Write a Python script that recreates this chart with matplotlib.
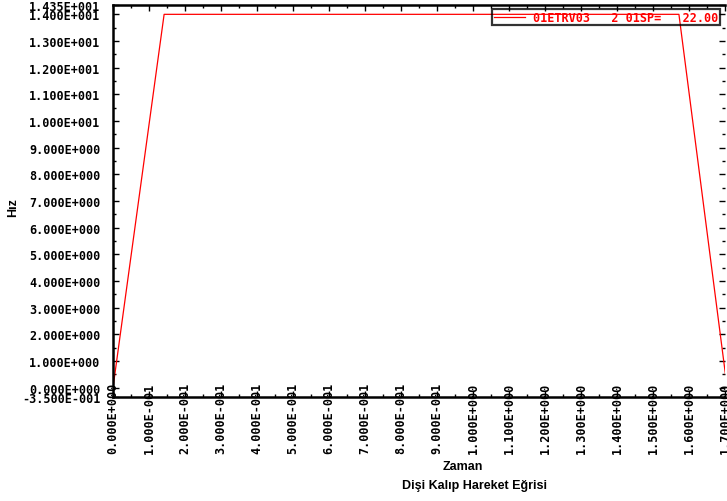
import matplotlib
matplotlib.use('Agg')
import matplotlib.pyplot as plt
import numpy as np

# curve data (time, speed)
zaman = [0.0, 0.142, 1.572, 1.706]
hiz = [0.0, 14.0, 14.0, 0.0]

x_ticks = [0.0, 0.1, 0.2, 0.3, 0.4, 0.5, 0.6, 0.7, 0.8, 0.9, 1.0,
           1.1, 1.2, 1.3, 1.4, 1.5, 1.6, 1.7]
y_ticks = [-0.35, 0, 1, 2, 3, 4, 5, 6, 7, 8, 9, 10, 11, 12, 13, 14, 14.35]

legend_label = '01ETRV03   2 01SP=   22.00'
x_label = 'Zaman'
y_label = 'Hız'
caption = 'Dişi Kalıp Hareket Eğrisi'


def sci_label(v):
    """
    Format like 1.400E+001 (three digit exponent).
    """
    if v == 0:
        return '0.000E+000'
    exp = int(np.floor(np.log10(abs(v))))
    mant = v / 10 ** exp
    sign = '+' if exp >= 0 else '-'
    return f'{mant:.3f}E{sign}{abs(exp):03d}'


mono = {'family': 'DejaVu Sans Mono', 'weight': 'bold', 'size': 8.5}

fig = plt.figure(figsize=(7.27, 5.02), dpi=100)
ax = fig.add_axes([113 / 727, 1 - 398 / 502, 612 / 727, 392 / 502])

ax.plot(zaman, hiz, color='red', linewidth=0.9, label=legend_label)

ax.set_xlim(0, 1.7)
ax.set_ylim(-0.35, 14.35)

ax.set_xticks(x_ticks)
ax.set_xticklabels([sci_label(v) for v in x_ticks], rotation=90, fontdict=mono)
ax.set_yticks(y_ticks)
ax.set_yticklabels([sci_label(v) for v in y_ticks], fontdict=mono)
ax.set_xticks(np.arange(0.05, 1.7, 0.1), minor=True)
ax.set_yticks(np.arange(0.5, 14.35, 1.0), minor=True)

ax.tick_params(axis='both', which='both', direction='in', top=True, right=True,
               color='black', width=1)
ax.tick_params(axis='both', which='major', length=4)
ax.tick_params(axis='both', which='minor', length=2)
ax.tick_params(axis='x', which='major', pad=-11)
ax.tick_params(axis='y', which='major', pad=9)

for side in ['left', 'bottom', 'top']:
    ax.spines[side].set_linewidth(1.8)
ax.spines['right'].set_visible(False)

leg = ax.legend(loc='upper right', bbox_to_anchor=(0.992, 0.99), frameon=True,
                fancybox=False, handlelength=2.6, handletextpad=0.7,
                borderpad=0.15, borderaxespad=0, prop=mono, labelcolor='red')
leg.get_frame().set_facecolor('none')
leg.get_frame().set_edgecolor('black')
leg.get_frame().set_linewidth(1.6)

lab = {'family': 'Liberation Sans', 'weight': 'bold', 'size': 9}
fig.text(463 / 727, 1 - 467 / 502, x_label, ha='center', va='center', fontdict=lab)
fig.text(475 / 727, 1 - 486 / 502, caption, ha='center', va='center', fontdict=lab)
fig.text(13 / 727, 1 - 208 / 502, y_label, ha='center', va='center',
         rotation=90, fontdict=lab)

fig.savefig('out.png', dpi=100)
